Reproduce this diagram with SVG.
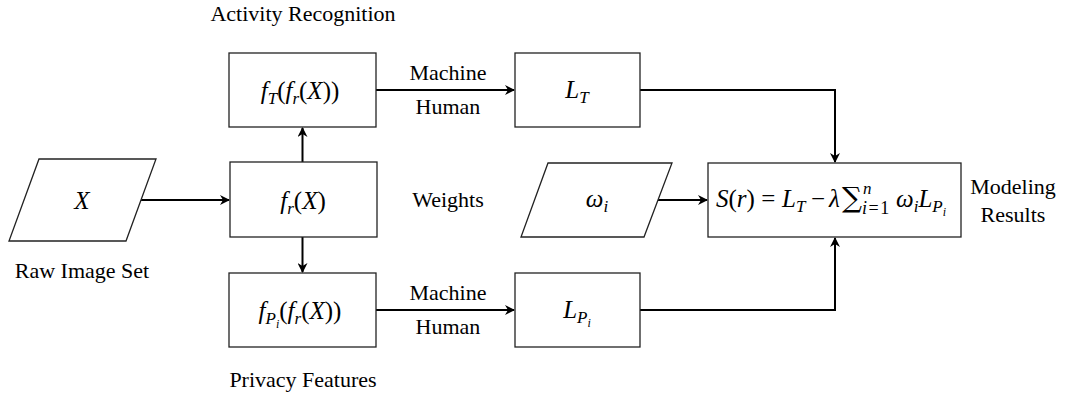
<svg xmlns="http://www.w3.org/2000/svg" width="1070" height="396" viewBox="0 0 1070 396">
<style>
text{font-family:"Liberation Serif","DejaVu Serif",serif;font-size:22px;fill:#000}
.lbl{text-anchor:middle}
.m{font-size:25px}
.i{font-style:italic}
.s{font-size:17px;font-style:italic}
.sc{font-size:18px;letter-spacing:1.5px}
.ss{font-size:12px;font-style:italic}
.sum{font-family:"DejaVu Serif",serif;font-size:28px}
.box{fill:#fff;stroke:#222;stroke-width:1.3}
.con{fill:none;stroke:#000;stroke-width:2;marker-end:url(#ah)}
</style>
<defs>
<marker id="ah" viewBox="0 0 10 10" refX="9" refY="5" markerWidth="5" markerHeight="5" orient="auto" markerUnits="strokeWidth">
<path d="M0,0 L10,5 L0,10 L3,5 Z" fill="#000"/>
</marker>
</defs>
<g id="connectors">
<path class="con" d="M141,200 H229"/>
<path class="con" d="M302.5,162 V128"/>
<path class="con" d="M302.5,237 V272"/>
<path class="con" d="M376,90 H514"/>
<path class="con" d="M376,310 H514"/>
<path class="con" d="M640,90 H835 V162"/>
<path class="con" d="M640,310 H835 V238"/>
<path class="con" d="M658,200 H707"/>
</g>
<g id="raw">
<polygon class="box" points="39,159 156,159 126,241 9,241"/>
<text class="lbl m i" x="82" y="209">X</text>
<text class="lbl" x="82" y="278">Raw Image Set</text>
</g>
<g id="fr">
<rect class="box" x="230" y="162" width="147" height="75"/>
<text class="lbl m" x="303" y="209"><tspan class="i">f</tspan><tspan class="s" dy="5">r</tspan><tspan dy="-5">(</tspan><tspan class="i">X</tspan>)</text>
</g>
<g id="fT">
<rect class="box" x="229" y="53" width="147" height="74"/>
<text class="lbl m" x="300" y="99"><tspan class="i">f</tspan><tspan class="s" dy="5">T</tspan><tspan dy="-5">(</tspan><tspan class="i">f</tspan><tspan class="s" dy="5">r</tspan><tspan dy="-5">(</tspan><tspan class="i">X</tspan>))</text>
<text class="lbl" x="303" y="21">Activity Recognition</text>
</g>
<g id="fP">
<rect class="box" x="229" y="273" width="147" height="74"/>
<text class="lbl m" x="300" y="319"><tspan class="i">f</tspan><tspan class="s" dy="5">P</tspan><tspan class="ss" dy="4">i</tspan><tspan dy="-9">(</tspan><tspan class="i">f</tspan><tspan class="s" dy="5">r</tspan><tspan dy="-5">(</tspan><tspan class="i">X</tspan>))</text>
<text class="lbl" x="303" y="387">Privacy Features</text>
</g>
<g id="labels">
<text class="lbl" x="448" y="80">Machine</text>
<text class="lbl" x="448" y="114">Human</text>
<text class="lbl" x="448" y="300">Machine</text>
<text class="lbl" x="448" y="334">Human</text>
<text class="lbl" x="448" y="207">Weights</text>
</g>
<g id="LT">
<rect class="box" x="515" y="53" width="125" height="74"/>
<text class="lbl m" x="577" y="98"><tspan class="i">L</tspan><tspan class="s" dy="5">T</tspan></text>
</g>
<g id="LP">
<rect class="box" x="515" y="273" width="125" height="74"/>
<text class="lbl m" x="577" y="318"><tspan class="i">L</tspan><tspan class="s" dy="5">P</tspan><tspan class="ss" dy="4">i</tspan></text>
</g>
<g id="omega">
<polygon class="box" points="548,163 672,163 644,237 521,237"/>
<text class="lbl m" x="597" y="207"><tspan class="i">ω</tspan><tspan class="s" dy="5">i</tspan></text>
</g>
<g id="score">
<rect class="box" x="708" y="163" width="253" height="74"/>
<text class="m" x="716" y="207"><tspan class="i">S</tspan>(<tspan class="i">r</tspan>) =</text>
<text class="m" x="782" y="207"><tspan class="i">L</tspan><tspan class="s" dy="5">T</tspan></text>
<text class="m" x="811" y="207">−</text>
<text class="m i" x="829" y="207">λ</text>
<text class="sum" x="842" y="207">∑</text>
<text class="s" x="863" y="194">n</text>
<text class="sc" x="862" y="214"><tspan class="i">i</tspan>=1</text>
<text class="m" x="896" y="207"><tspan class="i">ω</tspan><tspan class="s" dy="5">i</tspan><tspan class="i" dy="-5">L</tspan><tspan class="s" dy="5">P</tspan><tspan class="ss" dy="4">i</tspan></text>
</g>
<g id="result">
<text class="lbl" x="1013" y="194">Modeling</text>
<text class="lbl" x="1013" y="222">Results</text>
</g>
</svg>
